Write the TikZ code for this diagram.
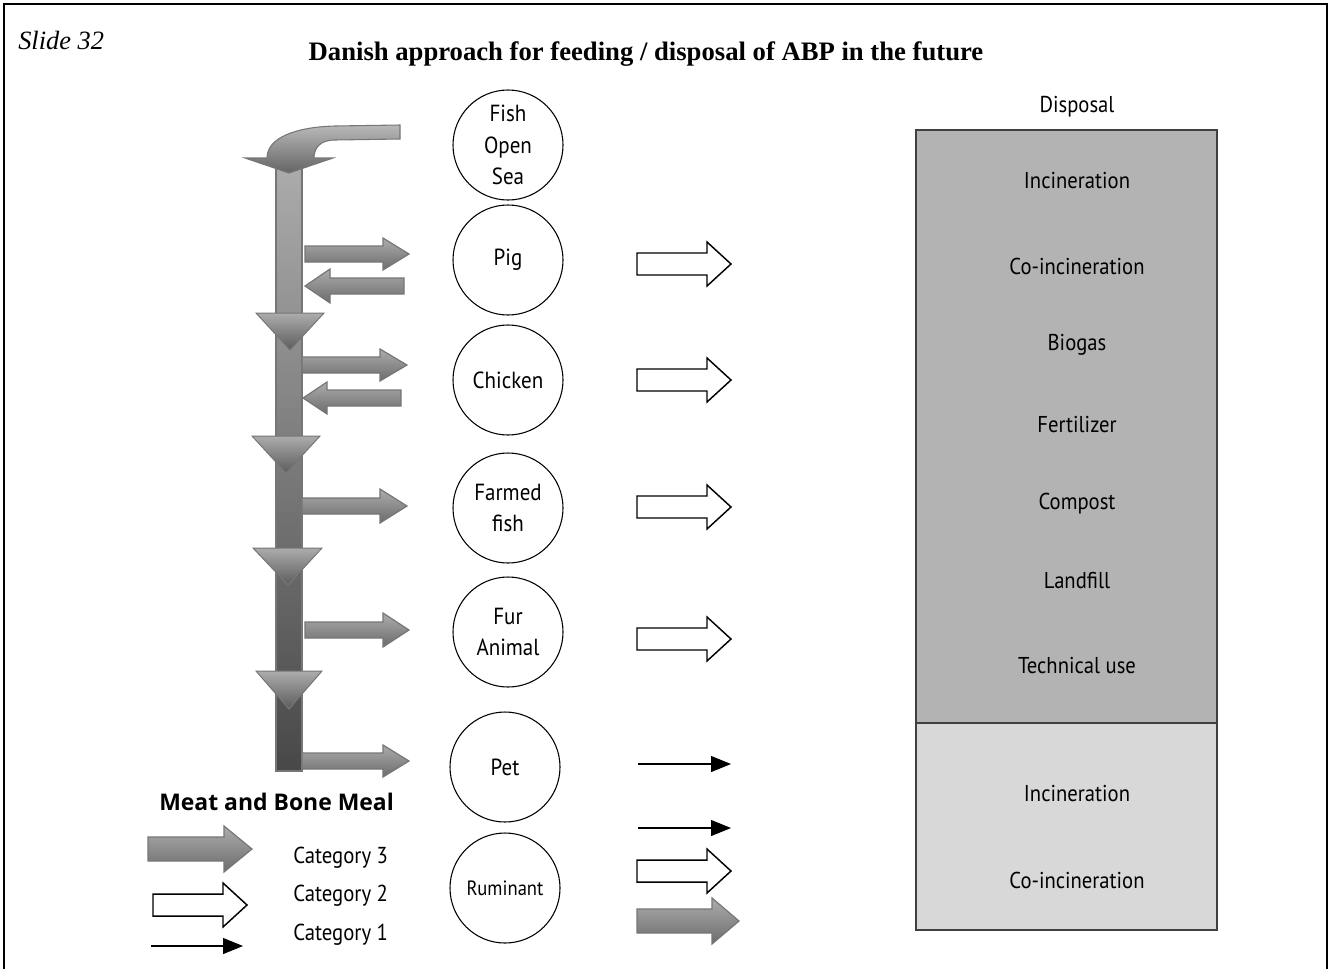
\documentclass[tikz,border=0pt]{standalone}
\usepackage{fontspec}
\setmainfont{Liberation Serif}
\newfontfamily\labf[FakeStretch=0.9]{PT Sans}
\newfontfamily\legf{Open Sans}
\usetikzlibrary{arrows.meta,shapes.geometric}
\definecolor{gLight}{RGB}{172,172,172}
\definecolor{gDark}{RGB}{108,108,108}
\definecolor{gEdge}{RGB}{118,118,118}
\definecolor{barTop}{RGB}{172,172,172}
\definecolor{barBot}{RGB}{72,72,72}
\definecolor{boxDark}{RGB}{179,179,179}
\definecolor{boxLight}{RGB}{216,216,216}
\definecolor{boxEdge}{RGB}{64,64,64}
\newcommand{\blkarrow}[7][]{\draw[#1] (#2,#3-#6) -- (#4,#3-#6) -- (#4,#3-#7) -- (#5,#3) -- (#4,#3+#7) -- (#4,#3+#6) -- (#2,#3+#6) -- cycle;}
\begin{document}
\begin{tikzpicture}[x=0.75pt,y=-0.75pt,
  garrow/.style={draw=gEdge,line width=0.9pt,top color=gLight,bottom color=gDark},
  warrow/.style={draw=black,line width=1.1pt,fill=white},
  tri/.style={draw=gEdge,line width=0.75pt,top color=gLight,bottom color=gDark!85!black},
  thin/.style={line width=0.8pt,-{Triangle[length=15pt,width=12pt]}},
  animal/.style={circle,draw,line width=0.8pt,minimum size=82.5pt,inner sep=0pt,align=center,font=\labf\fontsize{17.5}{23.5}\selectfont},
  lbl/.style={inner sep=0pt,yshift=-2.5pt,text height=0.7em,text depth=0pt,font=\labf\fontsize{17.2}{20}\selectfont},
  catlbl/.style={inner sep=0pt,yshift=-2.5pt,anchor=west,text height=0.7em,text depth=0pt,font=\labf\fontsize{17.3}{20}\selectfont}]
\useasboundingbox (0,0) rectangle (1330,968);
% frame
\draw[line width=1.3pt] (4,975) -- (4,4) -- (1327,4) -- (1327,975);
% titles
\node[inner sep=0pt,anchor=base west,font=\itshape\fontsize{19.8}{24}\selectfont] (slide) at (18,49) {Slide 32};
\node[inner sep=0pt,anchor=base,font=\bfseries\fontsize{20}{24}\selectfont] (title) at (646,60) {Danish approach for feeding / disposal of ABP in the future};
% circles
\node[animal] (fish) at (508,145) {Fish\\Open\\Sea};
\node[animal] (pig) at (508,260) {Pig};
\node[animal] (chicken) at (508,380) {Chicken};
\node[animal] (farmed) at (508,508) {Farmed\\fish};
\node[animal] (fur) at (508,632) {Fur\\Animal};
\node[animal] (pet) at (505,767) {Pet};
\node[animal,font=\labf\fontsize{15.5}{18}\selectfont] (rum) at (505,888) {Ruminant};
% disposal box
\node[lbl] (disp) at (1077,104) {Disposal};
\fill[boxDark] (916,130) rectangle (1217,723);
\fill[boxLight] (916,723) rectangle (1217,930);
\draw[boxEdge,line width=1.5pt] (916,130) rectangle (1217,930);
\draw[boxEdge,line width=1.5pt] (916,723) -- (1217,723);
\node[lbl] (d1) at (1077,180) {Incineration};
\node[lbl] (d2) at (1077,266) {Co-incineration};
\node[lbl] (d3) at (1077,342) {Biogas};
\node[lbl] (d4) at (1077,424) {Fertilizer};
\node[lbl] (d5) at (1077,501) {Compost};
\node[lbl] (d6) at (1077,580) {Landfill};
\node[lbl] (d7) at (1077,665) {Technical use};
\node[lbl] (d8) at (1077,793) {Incineration};
\node[lbl] (d9) at (1077,880) {Co-incineration};
% white arrows toward disposal
\blkarrow[warrow]{637}{264}{707}{731}{11}{22}
\blkarrow[warrow]{637}{380}{707}{731}{11}{22}
\blkarrow[warrow]{637}{507}{707}{731}{11}{22}
\blkarrow[warrow]{637}{639}{707}{731}{11}{22}
\blkarrow[warrow]{637}{871}{707}{731}{11}{22}
\blkarrow[garrow]{637}{921}{712}{739}{12}{23}
\coordinate (p1) at (638,764); \coordinate (p2) at (731,764);
\coordinate (r1) at (638,828); \coordinate (r2) at (731,828);
\draw[thin] (p1) -- (p2);
\draw[thin] (r1) -- (r2);
% vertical bar
\draw[draw=gEdge,line width=0.8pt,top color=barTop,bottom color=barBot] (276,160) rectangle (302,771);
% curved arrow
\draw[draw=gEdge,line width=0.8pt,top color={rgb,255:red,185;green,185;blue,185},bottom color={rgb,255:red,100;green,100;blue,100}]
  (400,125) -- (335,126) .. controls (295,127) and (267,138) .. (267,158) -- (245,158) -- (289,173) -- (333,158) -- (314,158)
  .. controls (314,148) and (320,140) .. (335,140) -- (400,139) -- cycle;
% triangles
\draw[tri] (256,313) -- (324,313) -- (290,350) -- cycle;
\draw[tri] (252,436) -- (320,436) -- (286,473) -- cycle;
\draw[tri] (253,548) -- (322,548) -- (288,585) -- cycle;
\draw[tri] (256,671) -- (322,671) -- (289,709) -- cycle;
% horizontal gray arrows
\blkarrow[garrow]{305}{254}{383}{409}{8}{16}
\blkarrow[garrow]{404}{286}{330}{305}{8}{17}
\blkarrow[garrow]{302}{365}{380}{407}{8}{16}
\blkarrow[garrow]{401}{398}{327}{303}{8}{16}
\blkarrow[garrow]{302}{506}{380}{407}{8}{17}
\blkarrow[garrow]{305}{630}{383}{409}{8}{17}
\blkarrow[garrow]{302}{761}{383}{409}{8}{16}
% legend
\node[inner sep=0pt,anchor=west,text height=0.72em,text depth=0pt,font=\legf\bfseries\fontsize{17.2}{20}\selectfont] (mbm) at (159,806) {Meat and Bone Meal};
\blkarrow[garrow]{148}{849}{224}{252}{12}{23}
\blkarrow[warrow]{153}{905}{223}{247}{11}{22}
\coordinate (l1) at (151,946); \coordinate (l2) at (243,946);
\draw[thin] (l1) -- (l2);
\node[catlbl] (c3) at (293,855) {Category 3};
\node[catlbl] (c2) at (293,893) {Category 2};
\node[catlbl] (c1) at (293,932) {Category 1};
\end{tikzpicture}
\end{document}
